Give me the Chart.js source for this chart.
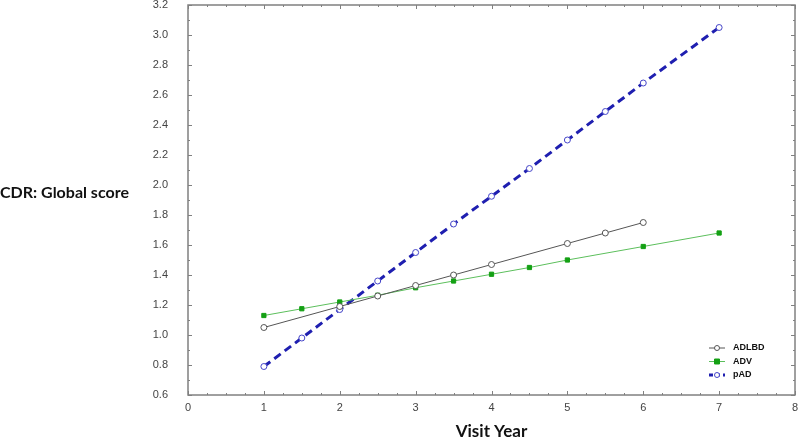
<!DOCTYPE html>
<html lang="en">
<head>
  <meta charset="UTF-8">
  <title>CDR: Global score by Visit Year</title>
  <script src="https://cdn.jsdelivr.net/npm/chart.js"></script>
  <style>
    html, body { margin: 0; padding: 0; background: #fff; }
    .wrap { position: relative; width: 800px; height: 437px; }
    .ytitle { position: absolute; left: 0; top: 182px; font-family: Lato, sans-serif; font-weight: 700; font-size: 16px; color: #111; white-space: nowrap; }
  </style>
</head>
<body>
<div class="wrap">
  <canvas id="cdr" width="800" height="437"></canvas>
  <div class="ytitle">CDR: Global score</div>
</div>

<script>
// series
const adlbdYears = [1, 2, 2.5, 3, 3.5, 4, 5, 5.5, 6];
const adlbdScore = [1.05, 1.19, 1.26, 1.33, 1.40, 1.47, 1.61, 1.68, 1.75];

const advYears = [1, 1.5, 2, 2.5, 3, 3.5, 4, 4.5, 5, 6, 7];
const advScore = [1.13, 1.175, 1.22, 1.265, 1.315, 1.36, 1.405, 1.45, 1.50, 1.59, 1.68];

const padYears = [1, 1.5, 2, 2.5, 3, 3.5, 4, 4.5, 5, 5.5, 6, 7];
const padScore = [0.79, 0.98, 1.17, 1.36, 1.55, 1.74, 1.925, 2.11, 2.30, 2.49, 2.68, 3.05];

const xRange = [0, 8];
const yRange = [0.6, 3.2];

const pts = (xs, ys) => xs.map((x, i) => ({ x: x, y: ys[i] }));

// inward ticks on all four sides plus the frame
const frameTicks = {
  id: 'frameTicks',
  afterDraw(chart) {
    const { ctx, chartArea: a, scales: { x, y } } = chart;
    ctx.save();
    ctx.strokeStyle = '#808080';
    ctx.lineWidth = 1;
    ctx.beginPath();
    for (let v = xRange[0]; v <= xRange[1] + 1e-9; v += 0.25) {
      const px = Math.round(x.getPixelForValue(v)) + 0.5;
      const len = Math.abs(v - Math.round(v)) < 1e-9 ? 4 : 2;
      ctx.moveTo(px, a.bottom); ctx.lineTo(px, a.bottom - len);
      ctx.moveTo(px, a.top); ctx.lineTo(px, a.top + len);
    }
    for (let k = 0; k <= 26; k++) {
      const v = yRange[0] + k * 0.1;
      const py = Math.round(y.getPixelForValue(v)) + 0.5;
      const len = k % 2 === 0 ? 4 : 2;
      ctx.moveTo(a.left, py); ctx.lineTo(a.left + len, py);
      ctx.moveTo(a.right, py); ctx.lineTo(a.right - len, py);
    }
    ctx.stroke();
    ctx.lineWidth = 1.5;
    ctx.strokeRect(a.left, a.top, a.right - a.left, a.bottom - a.top);
    ctx.restore();
  }
};

// legend with line sample and marker, bottom right
const sampleLegend = {
  id: 'sampleLegend',
  afterDraw(chart) {
    const ctx = chart.ctx;
    const x0 = 709, x1 = 725, tx = 733;
    const rows = [348, 361.5, 375];
    ctx.save();
    chart.data.datasets.forEach((ds, i) => {
      const yy = rows[i];
      ctx.strokeStyle = ds.borderColor;
      ctx.lineWidth = ds.borderWidth;
      ctx.setLineDash(ds.borderDash ? [4, 3] : []);
      ctx.beginPath(); ctx.moveTo(x0, yy); ctx.lineTo(x1, yy); ctx.stroke();
      ctx.setLineDash([]);
      ctx.lineWidth = 1;
      ctx.fillStyle = ds.pointBackgroundColor;
      ctx.strokeStyle = ds.pointBorderColor;
      const cx = (x0 + x1) / 2, r = ds.pointRadius - 0.5;
      ctx.beginPath();
      if (ds.pointStyle === 'rect') ctx.rect(cx - r, yy - r, 2 * r, 2 * r);
      else ctx.arc(cx, yy, r, 0, Math.PI * 2);
      ctx.fill(); ctx.stroke();
      ctx.fillStyle = '#111';
      ctx.font = 'bold 9px "Liberation Sans", Arial, sans-serif';
      ctx.textBaseline = 'middle';
      ctx.fillText(ds.label, tx, yy);
    });
    ctx.restore();
  }
};

new Chart(document.getElementById('cdr'), {
  type: 'line',
  data: {
    datasets: [
      { label: 'ADLBD', data: pts(adlbdYears, adlbdScore), borderColor: '#555555', borderWidth: 1,
        pointStyle: 'circle', pointRadius: 3, pointBackgroundColor: '#ffffff', pointBorderColor: '#555555', pointBorderWidth: 1 },
      { label: 'ADV', data: pts(advYears, advScore), borderColor: '#5cbf5c', borderWidth: 1,
        pointStyle: 'rect', pointRadius: 3, pointBackgroundColor: '#14a014', pointBorderColor: '#14a014', pointBorderWidth: 1 },
      { label: 'pAD', data: pts(padYears, padScore), borderColor: '#1f1fb0', borderWidth: 3, borderDash: [8, 5],
        pointStyle: 'circle', pointRadius: 3, pointBackgroundColor: '#ffffff', pointBorderColor: '#4545c8', pointBorderWidth: 1 }
    ]
  },
  options: {
    responsive: false,
    animation: false,
    layout: { padding: { left: 0, right: 5, top: 5, bottom: 0 } },
    plugins: { legend: { display: false }, tooltip: { enabled: false } },
    scales: {
      x: {
        type: 'linear', min: xRange[0], max: xRange[1],
        grid: { display: false }, border: { display: false },
        ticks: { stepSize: 1, color: '#444', padding: -2, font: { family: '"Liberation Sans", Arial', size: 11 } },
        title: { display: true, text: 'Visit Year', color: '#111', padding: { top: 9, bottom: -5 },
                 font: { family: 'Lato', weight: 'bold', size: 17 } },
        afterFit(s) { s.height = 42; s.paddingLeft = 0; s.paddingRight = 0; }
      },
      y: {
        type: 'linear', min: yRange[0], max: yRange[1],
        grid: { display: false }, border: { display: false },
        ticks: { stepSize: 0.2, color: '#444', padding: 12, font: { family: '"Liberation Sans", Arial', size: 11 },
                 callback: v => v.toFixed(1) },
        afterFit(s) { s.width = 188; s.paddingTop = 0; s.paddingBottom = 0; }
      }
    }
  },
  plugins: [frameTicks, sampleLegend]
});
</script>
</body>
</html>
